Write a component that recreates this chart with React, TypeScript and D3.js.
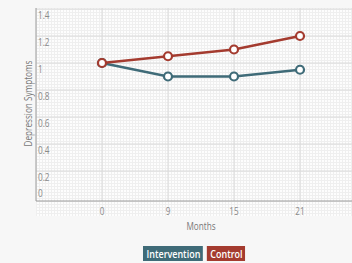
import React, { useEffect, useRef } from "react";
import * as d3 from "d3";

const months = ["0", "9", "15", "21"];
const intervention = [1, 0.9, 0.9, 0.95];
const control = [1, 1.05, 1.1, 1.2];
const yTicks = [0, 0.2, 0.4, 0.6, 0.8, 1, 1.2, 1.4];
const seriesNames = ["Intervention", "Control"];

const colors = { Intervention: "#3f6b78", Control: "#a43b2f" };
const font = "'Open Sans', sans-serif";
const squeeze = 0.78;

export default function App() {
  const ref = useRef<SVGSVGElement>(null);

  useEffect(() => {
    const svg = d3.select(ref.current);
    svg.selectAll("*").remove();

    const width = 352;
    const height = 263;
    const left = 36;
    const top = 8;
    const axisY = 201;

    const x = d3.scalePoint<string>().domain(months).range([left, left + 330]).padding(1);
    const y = d3.scaleLinear().domain([0, 1.4]).range([198, 9]);

    // narrow text: place at (tx,ty) and squeeze horizontally
    const label = (g: any, tx: number, ty: number, txt: string, size: number, fill: string, anchor = "start", rotate = 0) =>
      g.append("g")
        .attr("transform", `translate(${tx},${ty}) rotate(${rotate}) scale(${squeeze},1)`)
        .append("text")
        .attr("text-anchor", anchor)
        .attr("font-family", font).attr("font-size", size).attr("fill", fill)
        .text(txt);

    svg.append("rect").attr("width", width).attr("height", height).attr("fill", "#f7f7f7");

    const defs = svg.append("defs");
    const pat = defs.append("pattern")
      .attr("id", "fine")
      .attr("width", 3)
      .attr("height", 3)
      .attr("patternUnits", "userSpaceOnUse");
    pat.append("rect").attr("width", 3).attr("height", 3).attr("fill", "#fdfdfd");
    pat.append("path").attr("d", "M0,0.5H3M0.5,0V3").attr("stroke", "#efefef").attr("stroke-width", 1);

    svg.append("rect")
      .attr("x", left).attr("y", top)
      .attr("width", width - left).attr("height", 216 - top)
      .attr("fill", "url(#fine)");

    // major grid
    svg.append("g").selectAll("line").data(yTicks.slice(1)).join("line")
      .attr("x1", left).attr("x2", width)
      .attr("y1", (d) => y(d)).attr("y2", (d) => y(d))
      .attr("stroke", "#dadada").attr("stroke-width", 1);
    svg.append("g").selectAll("line").data(months).join("line")
      .attr("x1", (d) => x(d)!).attr("x2", (d) => x(d)!)
      .attr("y1", top).attr("y2", axisY)
      .attr("stroke", "#dadada").attr("stroke-width", 1);

    // axes
    svg.append("line").attr("x1", left).attr("x2", left).attr("y1", top).attr("y2", axisY)
      .attr("stroke", "#9a9a9a").attr("stroke-width", 1);
    svg.append("line").attr("x1", left).attr("x2", width).attr("y1", axisY).attr("y2", axisY)
      .attr("stroke", "#9a9a9a").attr("stroke-width", 1);

    const yAxis = svg.append("g");
    yTicks.forEach((d) => {
      label(yAxis, left + 2, d === 0 ? axisY - 4 : y(d) + 10, String(d), 10.5, "#8a8a8a");
    });

    const xAxis = svg.append("g");
    months.forEach((d) => {
      label(xAxis, x(d)!, 215, d, 10.5, "#8a8a8a", "middle");
    });

    label(svg, (x("9")! + x("15")!) / 2, 230, "Months", 10.5, "#777", "middle");
    label(svg, 32, y(0.7), "Depression Symptoms", 10.5, "#777", "middle", -90);

    const line = d3.line<number>().x((_, i) => x(months[i])!).y((d) => y(d));
    [
      { name: "Intervention", values: intervention },
      { name: "Control", values: control },
    ].forEach((s) => {
      const c = colors[s.name as keyof typeof colors];
      svg.append("path").datum(s.values).attr("d", line)
        .attr("fill", "none").attr("stroke", c).attr("stroke-width", 2.5);
      svg.append("g").selectAll("circle").data(s.values).join("circle")
        .attr("cx", (_, i) => x(months[i])!).attr("cy", (d) => y(d))
        .attr("r", 4).attr("fill", "#fff").attr("stroke", c).attr("stroke-width", 2.2);
    });

    // legend
    const legend = svg.append("g").attr("transform", "translate(143,246)");
    let lx = 0;
    seriesNames.forEach((name) => {
      const g = legend.append("g").attr("transform", `translate(${lx},0)`);
      const rect = g.append("rect").attr("height", 15).attr("fill", colors[name as keyof typeof colors]);
      const t = label(g, 3.5, 11.5, name, 11.5, "#fff").attr("font-weight", 600);
      const w = (t.node() as SVGTextElement).getComputedTextLength() * squeeze + 6;
      rect.attr("width", w);
      lx += w + 4;
    });
  }, []);

  return (
    <svg
      ref={ref}
      width={352}
      height={263}
      style={{ position: "absolute", left: 0, top: 0 }}
    />
  );
}
